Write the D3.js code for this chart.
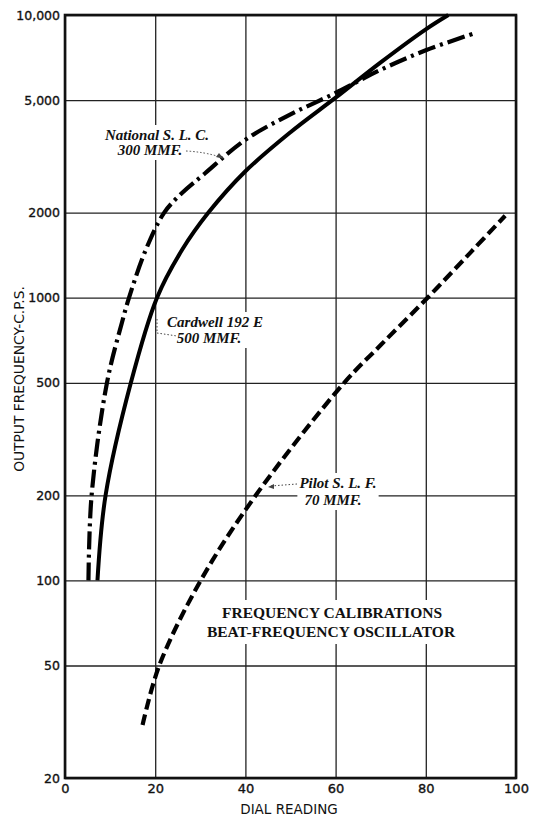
<!DOCTYPE html>
<html>
<head>
<meta charset="utf-8">
<script src="https://cdn.jsdelivr.net/npm/d3@7"></script>
<style>
  html, body { margin: 0; padding: 0; background: #fff; }
  svg { display: block; }
</style>
</head>
<body>
<svg id="chart" width="533" height="818"></svg>
<script>
// ---------- data ----------
const xTicks = [0, 20, 40, 60, 80, 100];
const yTicks = [20, 50, 100, 200, 500, 1000, 2000, 5000, 10000];
const yTickLabels = ["20", "50", "100", "200", "500", "1000", "2000", "5,000", "10,000"];

const nationalDial = [5.2, 5.9, 9.3, 12.6, 14.2, 17.9, 22, 26, 31, 40, 50, 60, 70, 80, 91];
const nationalFreq = [100, 200, 500, 814, 1000, 1475, 2000, 2350, 2750, 3620, 4450, 5300, 6400, 7500, 8640];

const cardwellDial = [7.2, 9.0, 14.6, 20.4, 26, 31.8, 40, 50, 60, 70, 80, 85];
const cardwellFreq = [100, 200, 500, 1000, 1480, 2000, 2800, 3850, 5100, 6800, 8900, 10000];

const pilotDial = [17.2, 20.9, 30.1, 42.3, 61.9, 70, 80.4, 90, 97.6];
const pilotFreq = [30.8, 50, 100, 200, 500, 680, 1000, 1450, 1950];

const titleLines = ["FREQUENCY CALIBRATIONS", "BEAT-FREQUENCY OSCILLATOR"];
const xAxisTitle = "DIAL READING";
const yAxisTitle = "OUTPUT FREQUENCY-C.P.S.";

// ---------- layout ----------
const svg = d3.select("#chart");
const L = 65, R = 516, T = 15, B = 778;
const x = d3.scaleLinear().domain([0, 100]).range([L, R]);
const y = d3.scaleLog().domain([20, 10000]).range([B, T]);

const ink = "#111";

// gridlines
const gGrid = svg.append("g");
gGrid.append("g")
  .attr("transform", `translate(0,${B})`)
  .call(d3.axisBottom(x).tickValues(xTicks).tickSize(-(B - T)).tickFormat(""))
  .call(g => g.select(".domain").remove())
  .call(g => g.selectAll("line").attr("stroke", "#222").attr("stroke-width", 1.3));
gGrid.append("g")
  .attr("transform", `translate(${L},0)`)
  .call(d3.axisLeft(y).tickValues(yTicks).tickSize(-(R - L)).tickFormat(""))
  .call(g => g.select(".domain").remove())
  .call(g => g.selectAll("line").attr("stroke", "#222").attr("stroke-width", 1.3));

// frame
svg.append("rect")
  .attr("x", L).attr("y", T).attr("width", R - L).attr("height", B - T)
  .attr("fill", "none").attr("stroke", ink).attr("stroke-width", 2.6);

// tick labels
svg.append("g")
  .attr("transform", `translate(${L},0)`)
  .call(d3.axisLeft(y).tickValues(yTicks).tickSize(0).tickPadding(5)
    .tickFormat((d, i) => yTickLabels[i]))
  .call(g => g.select(".domain").remove())
  .call(g => g.selectAll("text")
    .attr("font-family", "DejaVu Sans").attr("font-size", 12.5).attr("fill", ink)
    .attr("stroke", ink).attr("stroke-width", 0.35));

svg.append("g")
  .attr("transform", `translate(0,${B})`)
  .call(d3.axisBottom(x).tickValues(xTicks).tickSize(0).tickPadding(6))
  .call(g => g.select(".domain").remove())
  .call(g => g.selectAll("text")
    .attr("font-family", "DejaVu Sans").attr("font-size", 13).attr("fill", ink)
    .attr("stroke", ink).attr("stroke-width", 0.35));

// axis titles
svg.append("text")
  .attr("x", 289).attr("y", 814)
  .attr("text-anchor", "middle")
  .attr("font-family", "DejaVu Sans").attr("font-size", 13.5).attr("fill", ink)
  .text(xAxisTitle);

svg.append("text")
  .attr("transform", `translate(24,379) rotate(-90)`)
  .attr("text-anchor", "middle")
  .attr("font-family", "DejaVu Sans").attr("font-size", 13.8).attr("fill", ink)
  .text(yAxisTitle);

// label helper with white knockout
function label(lines, xs, ys, opts) {
  const g = svg.append("g");
  const bg = g.append("rect").attr("fill", "#fff");
  const t = g.append("text")
    .attr("font-family", opts.family)
    .attr("font-size", opts.size)
    .attr("font-style", opts.style || "normal")
    .attr("font-weight", opts.weight || "normal")
    .attr("fill", ink)
    .attr("text-anchor", "middle");
  lines.forEach((s, i) => {
    t.append("tspan").attr("x", xs[i]).attr("y", ys[i]).text(s);
  });
  const bb = t.node().getBBox();
  const p = opts.pad || 3;
  bg.attr("x", bb.x - p).attr("y", bb.y - p).attr("width", bb.width + 2 * p).attr("height", bb.height + 2 * p);
  return g;
}

// title
label(titleLines, [332, 331], [618, 637],
  { family: "Liberation Serif", size: 15.5, weight: "bold", pad: 4 });

// curve labels
const curveFont = { family: "Liberation Serif", size: 15, style: "italic", weight: "bold", pad: 2 };
label(["National S. L. C.", "300 MMF."], [157, 150], [140, 155], curveFont);
label(["Cardwell 192 E", "500 MMF."], [215, 209], [327, 343], curveFont);
label(["Pilot S. L. F.", "70 MMF."], [338, 333], [488, 505], curveFont);

// curves
function series(dial, freq) { return dial.map((d, i) => [d, freq[i]]); }
const line = d3.line()
  .x(d => x(d[0]))
  .y(d => y(d[1]))
  .curve(d3.curveCatmullRom.alpha(0.5));

const curves = svg.append("g").attr("fill", "none").attr("stroke", "#000");

curves.append("path")
  .datum(series(cardwellDial, cardwellFreq))
  .attr("d", line)
  .attr("stroke-width", 4);

curves.append("path")
  .datum(series(nationalDial, nationalFreq))
  .attr("d", line)
  .attr("stroke-width", 4.2)
  .attr("stroke-dasharray", "18,5,3,5");

curves.append("path")
  .datum(series(pilotDial, pilotFreq))
  .attr("d", line)
  .attr("stroke-width", 4.2)
  .attr("stroke-dasharray", "11,5");

// leaders
const lead = svg.append("g").attr("fill", "none").attr("stroke", "#444").attr("stroke-width", 1)
  .attr("stroke-dasharray", "1.5,2");
lead.append("path").attr("d", "M186,151 Q205,152 220,157");
lead.append("path").attr("d", "M157,319 L157,333 L177,336");
lead.append("path").attr("d", "M297,484 L271,486");
const arrows = svg.append("g").attr("fill", "#444");
arrows.append("path").attr("d", "M224,159 L216,157 L219,153 Z");
arrows.append("path").attr("d", "M268,487 L274,484 L274,489 Z");
</script>
</body>
</html>
